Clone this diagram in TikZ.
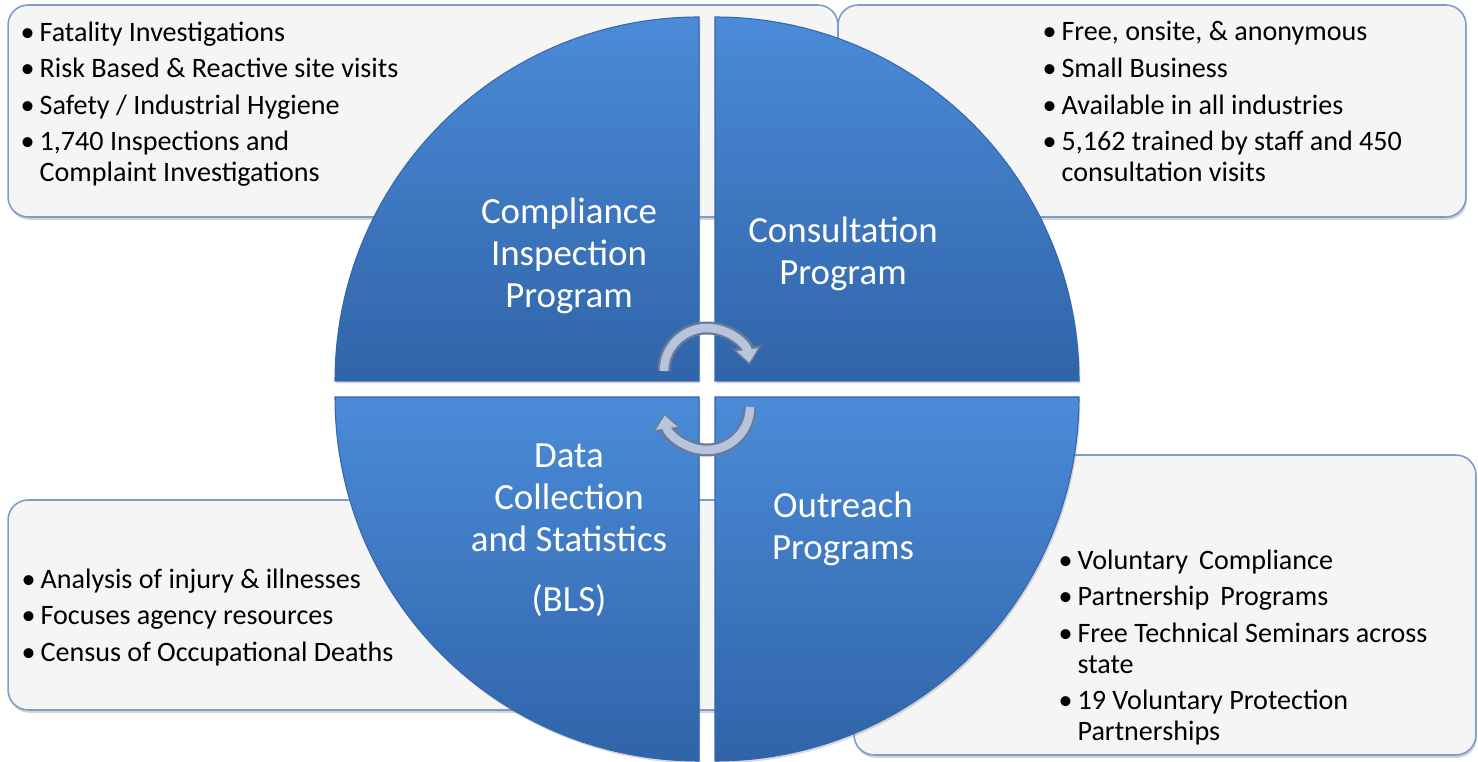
\documentclass[tikz,border=0pt]{standalone}
\usepackage{fontspec}
\setmainfont{Carlito}
\usepackage{xcolor}
\usetikzlibrary{positioning,calc,arrows.meta,shadows}

\definecolor{boxfill}{HTML}{F5F5F5}
\definecolor{boxedge}{HTML}{7C9DCC}
\definecolor{quadtop}{HTML}{4B8BD8}
\definecolor{quadbot}{HTML}{3064A8}
\definecolor{quadedge}{HTML}{3467AD}
\definecolor{turnfill}{HTML}{B7C4DC}
\definecolor{turnedge}{HTML}{6A7B98}

\newcommand{\bitem}{\makebox[0.38cm][l]{\textbullet}}
\newcommand{\bcont}{\hspace*{0.38cm}}

\tikzset{
  infobox/.style={draw=boxedge, fill=boxfill, rounded corners=0.4cm, line width=0.9pt,
    drop shadow={shadow xshift=0.6pt, shadow yshift=-1.6pt, opacity=0.35}},
  itemlist/.style={inner sep=0pt, align=left, text=black,
    font=\fontsize{16pt}{17.6pt}\selectfont},
  quad/.style={top color=quadtop, bottom color=quadbot, draw=quadedge, line width=0.6pt,
    drop shadow={shadow xshift=0.8pt, shadow yshift=-1.4pt, opacity=0.3}},
  quadlabel/.style={align=center, text=white, font=\fontsize{21pt}{24pt}\selectfont},
  turnarrow/.style={line width=0.17cm, turnfill, shorten >=0.05cm,
    -{Triangle[width=0.42cm, length=0.26cm]},
    preaction={draw=turnedge, line width=0.26cm, shorten >=0pt,
      -{Triangle[width=0.56cm, length=0.36cm]}}}
}

\begin{document}
\begin{tikzpicture}[x=0.02cm, y=0.02cm]
    \useasboundingbox (0,0) rectangle (1478,761);

    % Side boxes
    \node[infobox, minimum width=16.6cm, minimum height=4.24cm] (tlbox) at (423,650) {};
    \node[infobox, minimum width=12.56cm, minimum height=4.24cm] (trbox) at (1152,650) {};
    \node[infobox, minimum width=15.84cm, minimum height=4.2cm] (blbox) at (404,156) {};
    \node[infobox, minimum width=12.44cm, minimum height=6cm] (brbox) at (1165,156) {};

    \node[itemlist, below right=0.34cm and 0.26cm of tlbox.north west] (tllist) {%
      \bitem Fatality Investigations\\[3.2pt]
      \bitem Risk Based \& Reactive site visits\\[3.2pt]
      \bitem Safety / Industrial Hygiene\\[3.2pt]
      \bitem 1,740 Inspections and\\
      \bcont Complaint Investigations};
    \node[itemlist, below right=0.34cm and 4.1cm of trbox.north west] (trlist) {%
      \bitem Free, onsite, \& anonymous\\[3.2pt]
      \bitem Small Business\\[3.2pt]
      \bitem Available in all industries\\[3.2pt]
      \bitem 5,162 trained by staff and 450\\
      \bcont consultation visits};
    \node[itemlist, below right=1.38cm and 0.28cm of blbox.north west] (bllist) {%
      \bitem Analysis of injury \& illnesses\\[3.2pt]
      \bitem Focuses agency resources\\[3.2pt]
      \bitem Census of Occupational Deaths};
    \node[itemlist, below right=1.9cm and 4.1cm of brbox.north west] (brlist) {%
      \bitem Voluntary\, Compliance\\[3.2pt]
      \bitem Partnership\, Programs\\[3.2pt]
      \bitem Free Technical Seminars across\\
      \bcont state\\[3.2pt]
      \bitem 19 Voluntary Protection\\
      \bcont Partnerships};

    % Quarter discs
    \coordinate (hub) at (707,372);
    \path[quad] ($(hub)+(-8,8)$) -- ++(-364,0) arc[start angle=180, end angle=90, radius=364] -- cycle;
    \path[quad] ($(hub)+(8,8)$) -- ++(364,0) arc[start angle=0, end angle=90, radius=364] -- cycle;
    \path[quad] ($(hub)+(-8,-8)$) -- ++(-364,0) arc[start angle=180, end angle=270, radius=364] -- cycle;
    \path[quad] ($(hub)+(8,-8)$) -- ++(364,0) arc[start angle=0, end angle=-90, radius=364] -- cycle;

    \node[quadlabel] (inspection) at (569,505) {Compliance\\Inspection\\Program};
    \node[quadlabel] (consultation) at (843,507) {Consultation\\Program};
    \node[quadlabel] (statistics) at (569,231) {Data\\Collection\\and Statistics\\[0.34cm](BLS)};
    \node[quadlabel] (outreach) at (843,232) {Outreach\\Programs};

    % Turning arrows
    \draw[turnarrow] ($(hub)+(-43,18)$) arc[start angle=180, end angle=8, radius=43];
    \draw[turnarrow] ($(hub)+(43,-18)$) arc[start angle=0, end angle=-172, radius=43];
\end{tikzpicture}
\end{document}
